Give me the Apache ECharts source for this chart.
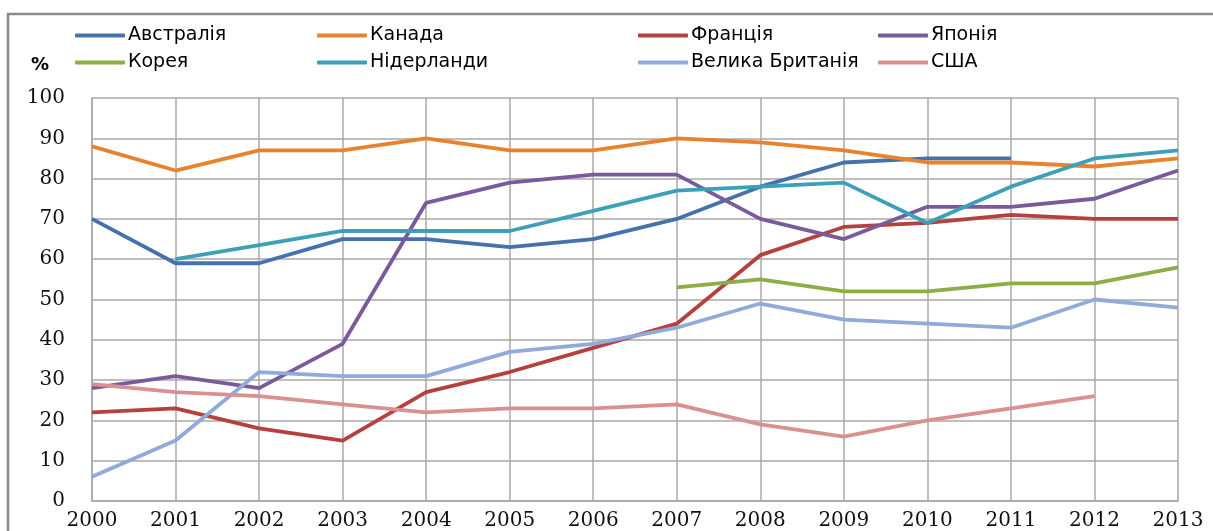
<!DOCTYPE html>
<html>
<head>
<meta charset="utf-8">
<script src="https://cdn.jsdelivr.net/npm/echarts@6/dist/echarts.min.js"></script>
<style>html,body{margin:0;padding:0;background:#fff;}#c{width:1213px;height:531px;}</style>
</head>
<body>
<div id="c"></div>
<script>
const years = ['2000','2001','2002','2003','2004','2005','2006','2007','2008','2009','2010','2011','2012','2013'];
const australia   = [70, 59, 59, 65, 65, 63, 65, 70, 78, 84, 85, 85, null, null];
const canada      = [88, 82, 87, 87, 90, 87, 87, 90, 89, 87, 84, 84, 83, 85];
const france      = [22, 23, 18, 15, 27, 32, 38, 44, 61, 68, 69, 71, 70, 70];
const japan       = [28, 31, 28, 39, 74, 79, 81, 81, 70, 65, 73, 73, 75, 82];
const korea       = [null, null, null, null, null, null, null, 53, 55, 52, 52, 54, 54, 58];
const netherlands = [null, 60, 63.5, 67, 67, 67, 72, 77, 78, 79, 69, 78, 85, 87];
const uk          = [6, 15, 32, 31, 31, 37, 39, 43, 49, 45, 44, 43, 50, 48];
const usa         = [29, 27, 26, 24, 22, 23, 23, 24, 19, 16, 20, 23, 26, null];

const names = ['Австралія','Канада','Франція','Японія','Корея','Нідерланди','Велика Британія','США'];
const dataSets = [australia, canada, france, japan, korea, netherlands, uk, usa];
const colors = ['#4672AC','#E8822F','#B5413E','#7A5A9A','#8BAE46','#3EA0B8','#8FAADB','#D99090'];

const chart = echarts.init(document.getElementById('c'), null, {renderer:'canvas'});
const legendCols = [[0,4],[1,5],[2,6],[3,7]];
const legendLeft = [75, 317, 638, 878];
const legends = legendCols.map((col,i)=>({
  orient:'vertical', left: legendLeft[i], top: 26, itemGap: 8,
  itemWidth: 50, itemHeight: 4, icon: 'roundRect', padding: 0,
  textStyle:{fontFamily:'DejaVu Sans', fontSize:19, color:'#000', padding:[0,0,0,-2]},
  data: col.map(k=>names[k]), selectedMode:false
}));

chart.setOption({
  animation:false,
  backgroundColor:'#fff',
  color: colors,
  title:{text:'%', left:31, top:56, padding:0, textStyle:{fontFamily:'DejaVu Sans', fontSize:18, fontWeight:'bold', color:'#000'}},
  legend: legends,
  graphic:[{type:'polyline', shape:{points:[[8,540],[8,14],[1215,14]]}, style:{stroke:'#8a8a8a', lineWidth:2.5, fill:null}}],
  grid:{left:92, right:35, top:98, bottom:30, containLabel:false},
  xAxis:{type:'category', data: years, boundaryGap:false,
    axisLine:{show:true, lineStyle:{color:'#A8A8A8', width:1.5}},
    axisTick:{show:false},
    axisLabel:{margin:10, fontFamily:'DejaVu Serif', fontSize:20, color:'#111'},
    splitLine:{show:true, lineStyle:{color:'#A8A8A8', width:1.5}}},
  yAxis:{type:'value', min:0, max:100, interval:10,
    axisLine:{show:true, lineStyle:{color:'#A8A8A8', width:1.5}},
    axisTick:{show:false},
    axisLabel:{margin:27, fontFamily:'DejaVu Serif', fontSize:20, color:'#111'},
    splitLine:{show:true, lineStyle:{color:'#A8A8A8', width:1.5}}},
  series: names.map((n,i)=>({
    name:n, type:'line', data:dataSets[i], showSymbol:false, symbol:'none',
    connectNulls:false, lineStyle:{width:3.8, color:colors[i]}, itemStyle:{color:colors[i]}
  }))
});
</script>
</body>
</html>
